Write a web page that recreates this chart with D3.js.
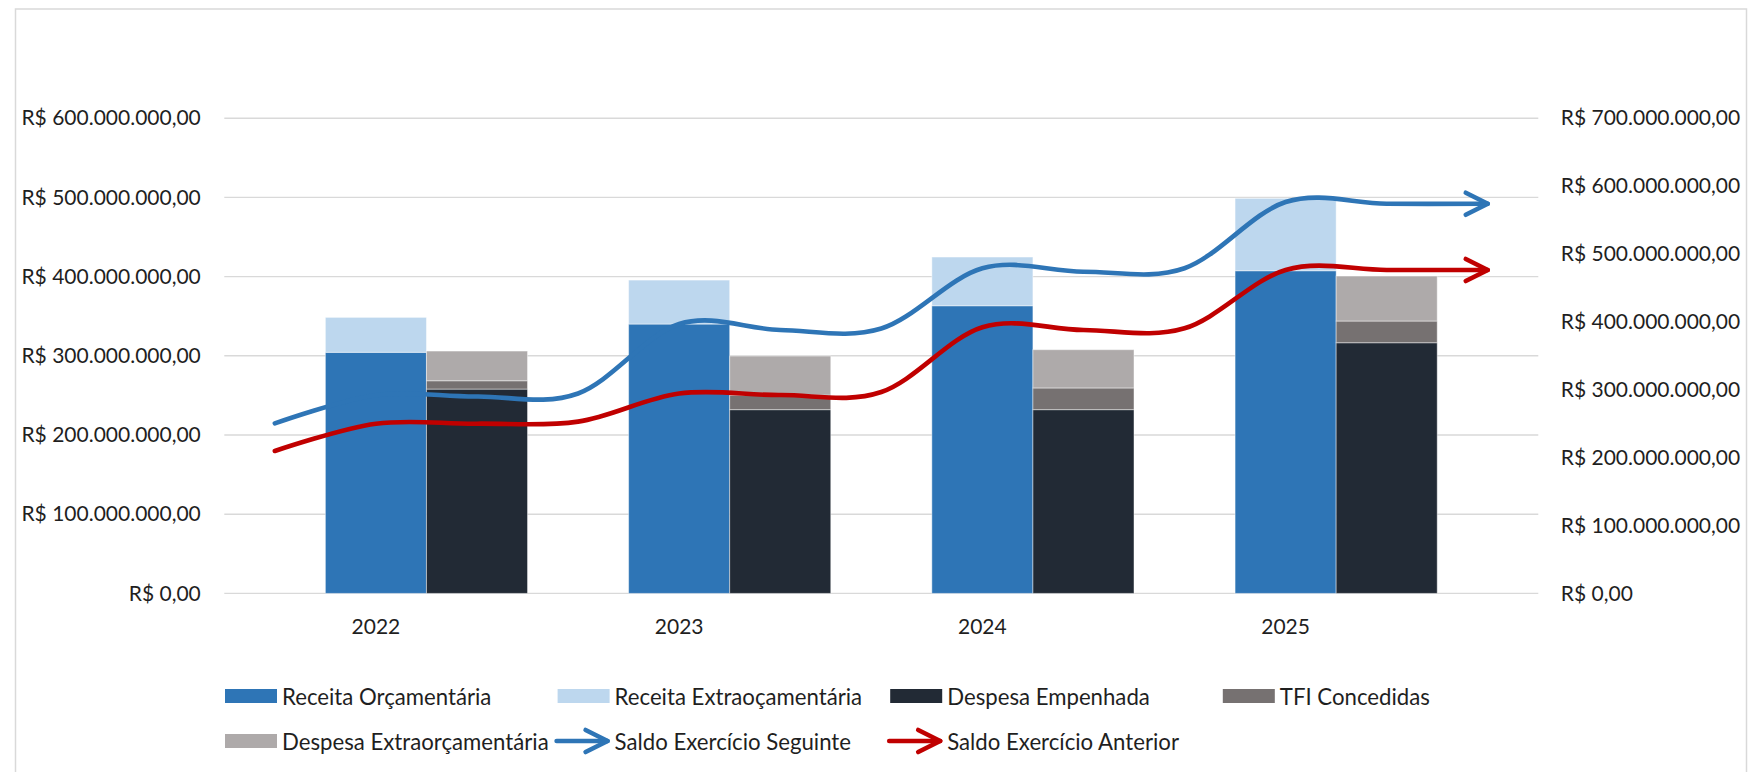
<!DOCTYPE html>
<html lang="pt-BR">
<head>
<meta charset="utf-8">
<script src="https://cdn.jsdelivr.net/npm/d3@7"></script>
<style>
  html, body { margin: 0; padding: 0; background: #ffffff; }
  svg { display: block; }
  text { font-family: Lato, "Open Sans", sans-serif; fill: #1f1f1f; }
</style>
</head>
<body>
<svg id="chart" width="1749" height="772"></svg>
<script>
// Valores em milhões de reais
const years = ["2022", "2023", "2024", "2025"];
const receitaOrcamentaria = [304.4, 340.1, 363.2, 407.4];
const receitaExtraorcamentaria = [44.1, 55.5, 61.5, 91.4];
const despesaEmpenhada = [258.0, 232.0, 232.0, 316.5];
const tfiConcedidas = [10.5, 18.4, 27.4, 27.4];
const despesaExtraorcamentaria = [37.5, 49.3, 48.3, 56.8];

// Saldos (eixo secundário), um ponto por posição da linha
const saldoSeguinte = [250.5, 292.0, 290.0, 294.5, 396.8, 388.0, 390.2, 478.9, 473.9, 479.0, 576.5, 574.0, 574.0];
const saldoAnterior = [209.8, 250.0, 250.0, 253.0, 294.4, 292.2, 296.6, 392.0, 388.0, 390.5, 476.4, 476.4, 476.4];

const leftTicks = [0, 100, 200, 300, 400, 500, 600];
const rightTicks = [0, 100, 200, 300, 400, 500, 600, 700];

const colors = {
  receitaOrc: "#2E75B6",
  receitaExtra: "#BDD7EE",
  despEmp: "#222A35",
  tfi: "#767171",
  despExtra: "#AEAAAA",
  seguinte: "#2E75B6",
  anterior: "#C00000"
};

const svg = d3.select("#chart");

// Moldura do gráfico
svg.append("rect")
  .attr("x", 15.5).attr("y", 9).attr("width", 1731).attr("height", 800)
  .attr("fill", "#ffffff").attr("stroke", "#d9d9d9").attr("stroke-width", 1.5);

const plot = { left: 224.3, right: 1538.3, top: 118.2, bottom: 593.4 };

const yLeft = d3.scaleLinear().domain([0, 600]).range([plot.bottom, plot.top]);
const yRight = d3.scaleLinear().domain([0, 700]).range([plot.bottom, plot.top]);

// 13 posições na horizontal: por ano, receita, despesa e um intervalo
const slots = d3.range(13);
const xSlot = d3.scaleBand().domain(slots).range([plot.left, plot.right]).padding(0);
const bw = xSlot.bandwidth();
const receitaSlot = i => 3 * i + 1;
const despesaSlot = i => 3 * i + 2;

const brl = d3.formatLocale({ decimal: ",", thousands: ".", grouping: [3], currency: ["R$ ", ""] }).format("$,.2f");
const fmtM = d => brl(d * 1e6);

// Linhas de grade
svg.append("g").selectAll("line")
  .data(leftTicks).join("line")
  .attr("x1", plot.left).attr("x2", plot.right)
  .attr("y1", d => yLeft(d)).attr("y2", d => yLeft(d))
  .attr("stroke", "#d9d9d9").attr("stroke-width", 1.4);

// Eixos
const axisFont = 21;
const legendFont = 22.2;
const gL = svg.append("g").attr("transform", `translate(${plot.left},0)`)
  .call(d3.axisLeft(yLeft).tickValues(leftTicks).tickFormat(fmtM).tickSize(0).tickPadding(23.5));
const gR = svg.append("g").attr("transform", `translate(${plot.right},0)`)
  .call(d3.axisRight(yRight).tickValues(rightTicks).tickFormat(fmtM).tickSize(0).tickPadding(22.5));
[gL, gR].forEach(g => {
  g.select(".domain").remove();
  g.selectAll("text").attr("font-size", axisFont).attr("font-family", "Lato, sans-serif").attr("fill", "#1f1f1f");
});

// Barras empilhadas de receita e de despesa
const receitaRows = years.map((y, i) => ({ i, receitaOrc: receitaOrcamentaria[i], receitaExtra: receitaExtraorcamentaria[i] }));
const despesaRows = years.map((y, i) => ({ i, despEmp: despesaEmpenhada[i], tfi: tfiConcedidas[i], despExtra: despesaExtraorcamentaria[i] }));

const receitaStack = d3.stack().keys(["receitaOrc", "receitaExtra"])(receitaRows);
const despesaStack = d3.stack().keys(["despEmp", "tfi", "despExtra"])(despesaRows);

function drawStack(stack, slotOf) {
  svg.append("g").selectAll("g")
    .data(stack).join("g")
    .attr("fill", s => colors[s.key])
    .selectAll("rect")
    .data(s => s).join("rect")
    .attr("x", d => xSlot(slotOf(d.data.i)))
    .attr("width", bw)
    .attr("y", d => yLeft(d[1]))
    .attr("height", d => yLeft(d[0]) - yLeft(d[1]))
    .attr("stroke", "rgba(255,255,255,0.45)")
    .attr("stroke-width", 1);
}
drawStack(receitaStack, receitaSlot);
drawStack(despesaStack, despesaSlot);

// Rótulos dos anos
svg.append("g").selectAll("text")
  .data(years).join("text")
  .attr("x", (d, i) => xSlot(receitaSlot(i)) + bw / 2)
  .attr("y", 625)
  .attr("text-anchor", "middle")
  .attr("dominant-baseline", "central")
  .attr("font-size", axisFont)
  .text(d => d);

// Linhas suavizadas com seta no final
const line = d3.line()
  .x((d, k) => xSlot(k) + bw / 2)
  .y(d => yRight(d))
  .curve(d3.curveCardinal.tension(0));

function arrowHead(x, y) {
  return `M${x - 22},${y - 11}L${x},${y}L${x - 22},${y + 11}`;
}

function drawSaldo(values, color) {
  const g = svg.append("g").attr("fill", "none").attr("stroke", color)
    .attr("stroke-width", 4.6).attr("stroke-linecap", "round").attr("stroke-linejoin", "round");
  g.append("path").attr("d", line(values));
  const last = values.length - 1;
  g.append("path").attr("d", arrowHead(xSlot(last) + bw / 2, yRight(values[last])));
}
drawSaldo(saldoSeguinte, colors.seguinte);
drawSaldo(saldoAnterior, colors.anterior);

// Legenda
const legendItems = [
  { label: "Receita Orçamentária", color: colors.receitaOrc, type: "rect", row: 0, col: 0 },
  { label: "Receita Extraoçamentária", color: colors.receitaExtra, type: "rect", row: 0, col: 1 },
  { label: "Despesa Empenhada", color: colors.despEmp, type: "rect", row: 0, col: 2 },
  { label: "TFI Concedidas", color: colors.tfi, type: "rect", row: 0, col: 3 },
  { label: "Despesa Extraorçamentária", color: colors.despExtra, type: "rect", row: 1, col: 0 },
  { label: "Saldo Exercício Seguinte", color: colors.seguinte, type: "arrow", row: 1, col: 1 },
  { label: "Saldo Exercício Anterior", color: colors.anterior, type: "arrow", row: 1, col: 2 }
];
const legendX = c => 225 + 332.6 * c;
const legendY = r => 696 + 45 * r;

const li = svg.append("g").selectAll("g")
  .data(legendItems).join("g")
  .attr("transform", d => `translate(${legendX(d.col)},${legendY(d.row)})`);

li.filter(d => d.type === "rect").append("rect")
  .attr("x", 0).attr("y", -7).attr("width", 52).attr("height", 14)
  .attr("fill", d => d.color);

const la = li.filter(d => d.type === "arrow").append("g")
  .attr("fill", "none").attr("stroke", d => d.color)
  .attr("stroke-width", 4.6).attr("stroke-linecap", "round").attr("stroke-linejoin", "round");
la.append("line").attr("x1", -1).attr("x2", 50).attr("y1", 0).attr("y2", 0);
la.append("path").attr("d", arrowHead(50, 0));

li.append("text")
  .attr("x", 57).attr("y", 0)
  .attr("dominant-baseline", "central")
  .attr("font-size", legendFont)
  .text(d => d.label);
</script>
</body>
</html>
